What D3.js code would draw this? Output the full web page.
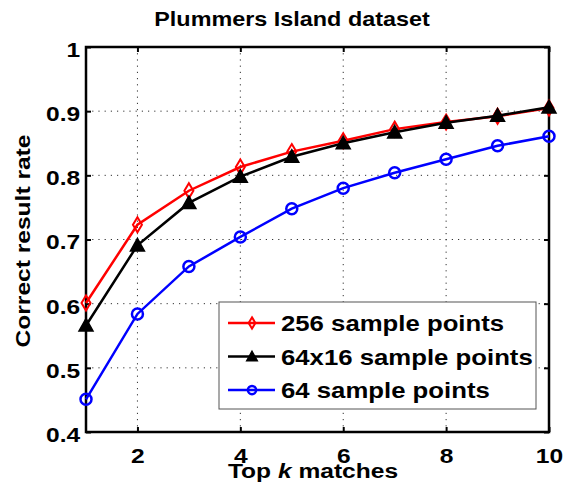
<!DOCTYPE html>
<html>
<head>
<meta charset="utf-8">
<script src="https://cdn.jsdelivr.net/npm/d3@7/dist/d3.min.js"></script>
<style>
  body { margin: 0; background: #fff; }
  text { font-family: "Liberation Sans", Arial, sans-serif; font-weight: bold; }
</style>
</head>
<body>
<div id="chart"></div>
<script>
// data
var topK = [1, 2, 3, 4, 5, 6, 7, 8, 9, 10];
var pts256 = [0.601, 0.723, 0.776, 0.813, 0.837, 0.854, 0.872, 0.883, 0.892, 0.905];
var pts64x16 = [0.566, 0.691, 0.757, 0.798, 0.829, 0.850, 0.867, 0.882, 0.893, 0.906];
var pts64 = [0.451, 0.584, 0.658, 0.704, 0.748, 0.780, 0.804, 0.825, 0.846, 0.861];
var xTicks = [2, 4, 6, 8, 10];
var yTicks = [0.4, 0.5, 0.6, 0.7, 0.8, 0.9, 1];
var seriesNames = ["256 sample points", "64x16 sample points", "64 sample points"];

var margin = {top: 47, right: 14, bottom: 55, left: 86},
    width = 563 - margin.left - margin.right,
    height = 487 - margin.top - margin.bottom;

// the original figure's lettering is a bit wider than Liberation Sans
var stretch = 1.17;

var svg = d3.select("#chart")
  .append("svg")
    .attr("width", 563)
    .attr("height", 487)
  .append("g")
    .attr("transform", "translate(" + margin.left + "," + margin.top + ")");

var x = d3.scaleLinear().domain([1, 10]).range([0, width]);
var y = d3.scaleLinear().domain([0.4, 1]).range([height, 0]);

// dotted grid
svg.append("g").selectAll("line.gx")
  .data(xTicks.filter(function(d) { return d < 10; }))
  .enter().append("line")
    .attr("x1", function(d) { return x(d); })
    .attr("x2", function(d) { return x(d); })
    .attr("y1", 0).attr("y2", height)
    .attr("stroke", "#333").attr("stroke-width", 1)
    .attr("stroke-dasharray", "1.2,5");
svg.append("g").selectAll("line.gy")
  .data(yTicks.filter(function(d) { return d > 0.4 && d < 1; }))
  .enter().append("line")
    .attr("x1", 0).attr("x2", width)
    .attr("y1", function(d) { return y(d); })
    .attr("y2", function(d) { return y(d); })
    .attr("stroke", "#333").attr("stroke-width", 1)
    .attr("stroke-dasharray", "1.2,5");

// axes, ticks inward, mirrored
function styleAxis(g) {
  g.select(".domain").remove();
  g.selectAll(".tick line").attr("stroke", "#000").attr("stroke-width", 2);
  g.selectAll(".tick text").attr("fill", "#000").style("font-size", "21px")
    .style("font-family", "'Liberation Sans', Arial, sans-serif").style("font-weight", "bold")
    .attr("transform", "scale(" + stretch + ",1)");
}
svg.append("g")
  .attr("transform", "translate(0," + height + ")")
  .call(d3.axisBottom(x).tickValues(xTicks).tickSize(-5).tickPadding(16).tickFormat(d3.format("d")))
  .call(styleAxis);
svg.append("g")
  .call(d3.axisLeft(y).tickValues(yTicks).tickSize(-5).tickPadding(5).tickFormat(function(d) { return d === 1 ? "1" : d3.format(".1f")(d); }))
  .call(styleAxis)
  .selectAll(".tick text").attr("dy", "0.45em");
svg.append("g")
  .call(d3.axisTop(x).tickValues(xTicks).tickSize(-5).tickFormat(""))
  .call(styleAxis);
svg.append("g")
  .attr("transform", "translate(" + width + ",0)")
  .call(d3.axisRight(y).tickValues(yTicks).tickSize(-5).tickFormat(""))
  .call(styleAxis);

svg.append("rect")
  .attr("width", width).attr("height", height)
  .attr("fill", "none").attr("stroke", "#000").attr("stroke-width", 2.5);

// series
var series = [
  {name: seriesNames[0], vals: pts256, color: "#ff0000", marker: "diamond"},
  {name: seriesNames[1], vals: pts64x16, color: "#000000", marker: "triangle"},
  {name: seriesNames[2], vals: pts64, color: "#0000ff", marker: "circle"}
];

var line = d3.line()
  .x(function(d, i) { return x(topK[i]); })
  .y(function(d) { return y(d); });

function drawMarker(g, type, color, cx, cy, scale) {
  scale = scale || 1;
  if (type === "diamond") {
    var s = 6 * scale;
    g.append("path")
      .attr("d", "M" + cx + "," + (cy - s * 1.25) + "L" + (cx + s * 0.75) + "," + cy +
                 "L" + cx + "," + (cy + s * 1.25) + "L" + (cx - s * 0.75) + "," + cy + "Z")
      .attr("fill", "none").attr("stroke", color).attr("stroke-width", 2);
  } else if (type === "triangle") {
    var t = 7 * scale;
    g.append("path")
      .attr("d", "M" + cx + "," + (cy - t) + "L" + (cx + t) + "," + (cy + t * 0.8) +
                 "L" + (cx - t) + "," + (cy + t * 0.8) + "Z")
      .attr("fill", color).attr("stroke", color).attr("stroke-width", 1.5);
  } else {
    g.append("circle")
      .attr("cx", cx).attr("cy", cy).attr("r", 5.5 * scale)
      .attr("fill", "none").attr("stroke", color).attr("stroke-width", 2.5);
  }
}

series.forEach(function(s) {
  svg.append("path")
    .datum(s.vals)
    .attr("d", line)
    .attr("fill", "none")
    .attr("stroke", s.color)
    .attr("stroke-width", 2.5);
  var mg = svg.append("g");
  s.vals.forEach(function(v, i) {
    drawMarker(mg, s.marker, s.color, x(topK[i]), y(v));
  });
});

// stretched text helper
function label(parent, tx, ty, size, anchor, rot) {
  return parent.append("text")
    .attr("transform", "translate(" + tx + "," + ty + ")" + (rot ? " rotate(" + rot + ")" : "") +
                       " scale(" + stretch + ",1)")
    .attr("text-anchor", anchor)
    .style("font-size", size + "px")
    .attr("fill", "#000");
}

// legend
var lg = svg.append("g").attr("transform", "translate(" + (219 - margin.left) + "," + (302 - margin.top) + ")");
lg.append("rect")
  .attr("width", 317).attr("height", 107)
  .attr("fill", "#fff").attr("stroke", "#555").attr("stroke-width", 1);
series.forEach(function(s, i) {
  var ly = 21 + i * 33.5;
  lg.append("line")
    .attr("x1", 9).attr("x2", 56).attr("y1", ly).attr("y2", ly)
    .attr("stroke", s.color).attr("stroke-width", 2.5);
  drawMarker(lg, s.marker, s.color, 33, ly, 0.75);
  label(lg, 62, ly + 8, 22, "start").text(s.name);
});

// title and labels
label(svg, 292 - margin.left, 26 - margin.top, 20, "middle").text("Plummers Island dataset");

var xl = label(svg, 313 - margin.left, 478 - margin.top, 21, "middle");
xl.append("tspan").text("Top ");
xl.append("tspan").style("font-style", "italic").text("k");
xl.append("tspan").text(" matches");

label(svg, 30 - margin.left, 241 - margin.top, 21, "middle", -90).text("Correct result rate");
</script>
</body>
</html>
